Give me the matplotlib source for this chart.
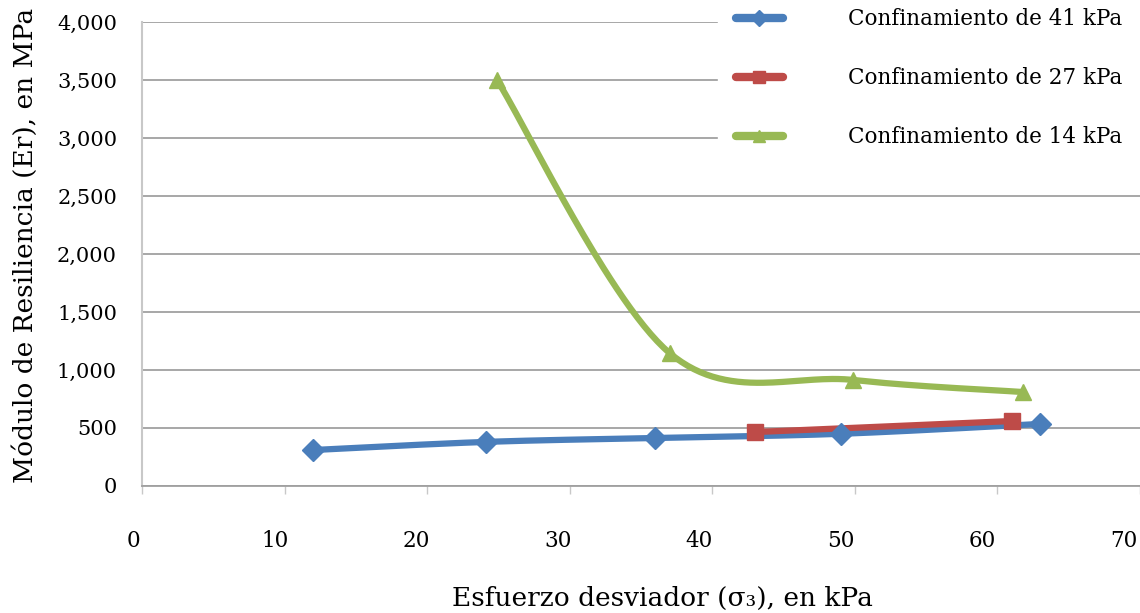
import numpy as np
import matplotlib
matplotlib.use("Agg")
import matplotlib.pyplot as plt
import matplotlib.transforms as mtransforms
from matplotlib.lines import Line2D
from matplotlib.ticker import FuncFormatter

# data
x_41 = [12.0, 24.1, 36.0, 49.0, 63.0]
y_41 = [310, 380, 414, 450, 535]

x_27 = [43.0, 61.0]
y_27 = [465, 560]

x_14 = [24.9, 37.0, 49.9, 61.8]
y_14 = [3500, 1147, 914, 810]

labels = ["Confinamiento de 41 kPa", "Confinamiento de 27 kPa", "Confinamiento de 14 kPa"]
colors = ["#4a7ebb", "#be4b48", "#98b954"]
markers = ["D", "s", "^"]
msizes = [11, 11, 11]


def smooth(xs, ys, n=60):
    # excel-like smoothed line (catmull-rom as cubic bezier)
    p = np.column_stack([xs, ys]).astype(float)
    if len(p) < 3:
        return p[:, 0], p[:, 1]
    ext = np.vstack([p[0], p, p[-1]])
    out = []
    t = np.linspace(0, 1, n)[:, None]
    for i in range(1, len(ext) - 2):
        p0, p1, p2, p3 = ext[i - 1], ext[i], ext[i + 1], ext[i + 2]
        c1 = p1 + (p2 - p0) / 6
        c2 = p2 - (p3 - p1) / 6
        seg = ((1 - t) ** 3) * p1 + 3 * ((1 - t) ** 2) * t * c1 + 3 * (1 - t) * t ** 2 * c2 + t ** 3 * p2
        out.append(seg)
    out = np.vstack(out)
    return out[:, 0], out[:, 1]


plt.rcParams["font.family"] = ["DejaVu Serif"]

fig = plt.figure(figsize=(11.4, 6.13), dpi=100)
ax = fig.add_axes([0.1246, 0.2072, 0.8754, 0.7568])

series = [(x_41, y_41), (x_27, y_27), (x_14, y_14)]
handles = []
for (xs, ys), c, m, ms, lab in zip(series, colors, markers, msizes, labels):
    sx, sy = smooth(xs, ys)
    ax.plot(sx, sy, color=c, lw=4.5, solid_capstyle="round", zorder=3)
    ax.plot(xs, ys, ls="none", marker=m, color=c, ms=ms, zorder=4)
    handles.append(Line2D([], [], color=c, lw=6, solid_capstyle="round",
                          marker=m, ms=8, label=lab))

ax.set_xlim(0, 70)
ax.set_ylim(0, 4000)
ax.set_xticks(range(0, 71, 10))
ax.set_yticks(range(0, 4001, 500))
ax.yaxis.set_major_formatter(FuncFormatter(lambda v, p: f"{int(v):,}"))
ax.grid(axis="y", color="#a0a0a0", lw=1.3)
ax.set_axisbelow(True)

for s in ["top", "right"]:
    ax.spines[s].set_visible(False)
ax.spines["left"].set_color("#c8c8c8")
ax.spines["left"].set_linewidth(1.5)
ax.spines["bottom"].set_color("#a0a0a0")
ax.spines["bottom"].set_linewidth(1.3)

ax.tick_params(axis="y", length=0, pad=18, labelsize=15)
ax.tick_params(axis="x", length=6, width=1, color="#c8c8c8", direction="out", pad=26, labelsize=15.5)

# x tick labels sit a little left of their ticks in the original
for v, lbl in zip(ax.get_xticks(), ax.get_xticklabels()):
    shift = mtransforms.ScaledTranslation(-(9 + 0.1 * v) / 100, 0, fig.dpi_scale_trans)
    lbl.set_transform(lbl.get_transform() + shift)

ax.set_xlabel("Esfuerzo desviador (σ₃), en kPa", fontsize=19)
ax.xaxis.set_label_coords(0.5215, -0.216)
ax.set_ylabel("Módulo de Resiliencia (Er), en MPa", fontsize=19)
ax.yaxis.set_label_coords(-0.104, 0.519)

leg = fig.legend(handles=handles, loc="upper right", bbox_to_anchor=(1.0, 1.016),
                 frameon=True, fontsize=15.5, handlelength=2.2, handletextpad=3.0,
                 labelspacing=1.72, borderpad=0.84, borderaxespad=0)
leg.get_frame().set_facecolor("white")
leg.get_frame().set_edgecolor("white")
leg.get_frame().set_alpha(1)
leg.get_frame().set_boxstyle("square", pad=0)
leg.set_zorder(10)

fig.savefig("out.png", dpi=100)
